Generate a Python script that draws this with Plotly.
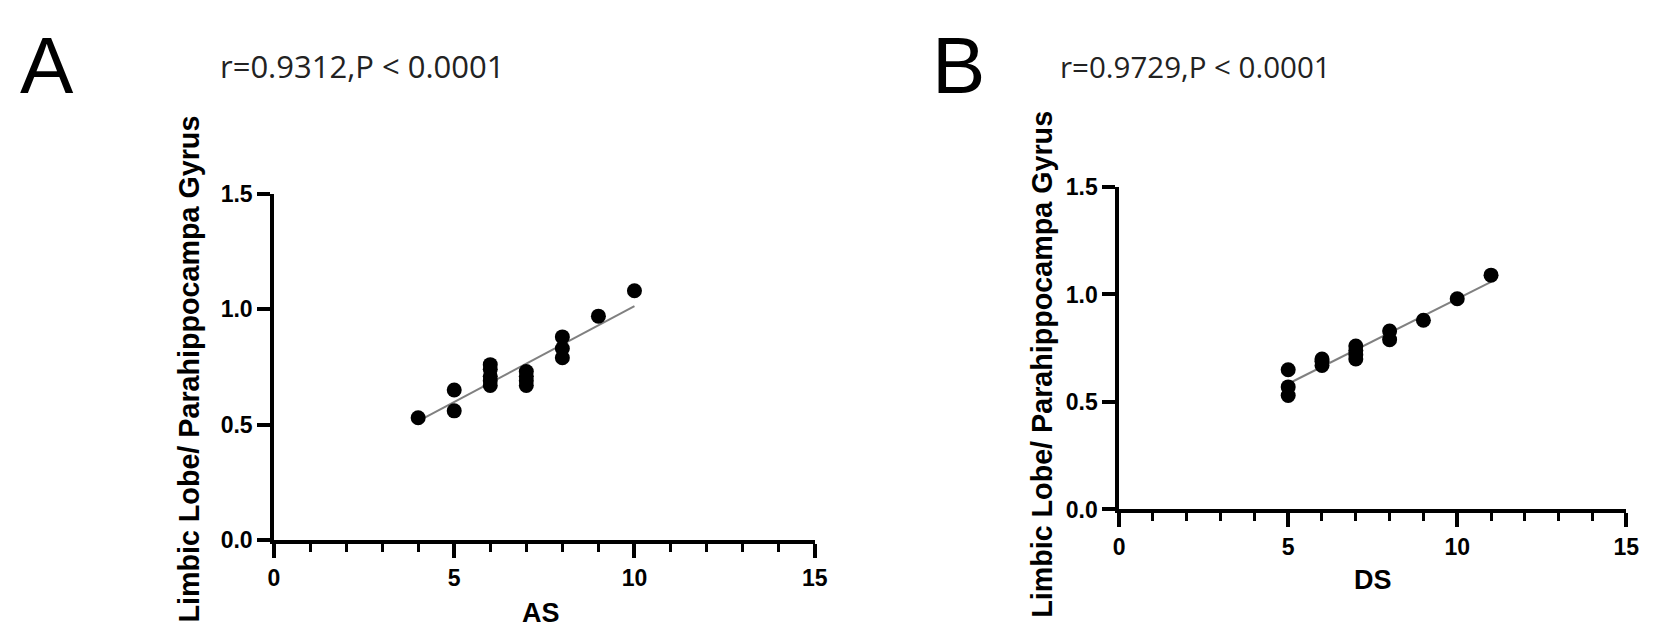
import numpy as np
import plotly.graph_objects as go

W, H = 1654, 644

# panel A: AS vs Limbic Lobe / Parahippocampa Gyrus
as_x = [4, 5, 5, 6, 6, 6, 6, 6, 7, 7, 7, 7, 8, 8, 8, 9, 10]
as_y = [0.53, 0.65, 0.56, 0.76, 0.74, 0.71, 0.69, 0.67, 0.73, 0.71, 0.69, 0.67,
        0.88, 0.83, 0.79, 0.97, 1.08]

# panel B: DS vs Limbic Lobe / Parahippocampa Gyrus
ds_x = [5, 5, 5, 6, 6, 6, 7, 7, 7, 7, 8, 8, 9, 10, 11]
ds_y = [0.65, 0.57, 0.53, 0.70, 0.69, 0.67, 0.76, 0.74, 0.72, 0.70,
        0.83, 0.79, 0.88, 0.98, 1.09]

stats = ["r=0.9312,P < 0.0001", "r=0.9729,P < 0.0001"]
x_titles = ["AS", "DS"]
y_title = "Limbic Lobe/ Parahippocampa Gyrus"
panel_letters = ["A", "B"]

x_ticks = [0, 5, 10, 15]
y_ticks = [0.0, 0.5, 1.0, 1.5]

AXFONT = "Liberation Sans, Arial, sans-serif"
TXTFONT = "Open Sans, sans-serif"


def px_x(p):
    return p / W


def px_y(p):
    return 1 - p / H


fig = go.Figure()

panels = [
    (as_x, as_y, "x", "y"),
    (ds_x, ds_y, "x2", "y2"),
]

for xs, ys, xa, ya in panels:
    slope, icpt = np.polyfit(xs, ys, 1)
    lx = np.array([min(xs), max(xs)])
    fig.add_trace(go.Scatter(x=lx, y=slope * lx + icpt, mode="lines",
                             line=dict(color="#808080", width=2),
                             xaxis=xa, yaxis=ya, showlegend=False))
    fig.add_trace(go.Scatter(x=xs, y=ys, mode="markers",
                             marker=dict(size=15, color="black"),
                             xaxis=xa, yaxis=ya, showlegend=False))

# pixel boxes of the two plot areas (left, right, top, bottom)
boxes = [(263, 810, 180, 541), (1118, 1631, 173, 509)]

common_x = dict(range=[0, 15], tickvals=x_ticks, showgrid=False, zeroline=False,
                showline=True, linecolor="black", linewidth=3.5,
                ticks="outside", ticklen=14, tickwidth=3.5, tickcolor="black",
                minor=dict(dtick=1, ticks="outside", ticklen=8, tickwidth=3,
                           tickcolor="black"),
                tickfont=dict(family=AXFONT, size=23, color="black", weight="bold"))
common_y = dict(range=[0, 1.5], tickvals=y_ticks, tickformat=".1f", showgrid=False,
                zeroline=False, showline=True, linecolor="black", linewidth=3.5,
                ticks="outside", ticklen=13, tickwidth=3.5, tickcolor="black",
                tickfont=dict(family=AXFONT, size=23, color="black", weight="bold"))

layout_axes = {}
for i, (l, r, t, b) in enumerate(boxes):
    sfx = "" if i == 0 else "2"
    layout_axes["xaxis" + sfx] = dict(common_x, domain=[px_x(l), px_x(r)],
                                      anchor="y" + sfx)
    layout_axes["yaxis" + sfx] = dict(common_y, domain=[px_y(b), px_y(t)],
                                      anchor="x" + sfx)

fig.update_layout(width=W, height=H, margin=dict(l=0, r=0, t=0, b=0),
                  paper_bgcolor="white", plot_bgcolor="white", **layout_axes)

# text positions in pixels
letter_pos = [(33, 46), (955, 46)]
stat_pos = [(206, 23), (1056, 24)]
stat_size = [31, 29.5]
xtitle_pos = [(533, 617), (1375, 582)]
ytitle_pos = [(177, 96), (1040, 92)]

for i in range(2):
    fig.add_annotation(text=panel_letters[i], x=px_x(letter_pos[i][0]),
                       y=px_y(letter_pos[i][1]), xref="paper", yref="paper",
                       showarrow=False, xanchor="center", yanchor="middle",
                       font=dict(family=AXFONT, size=80, color="black"))
    fig.add_annotation(text=stats[i], x=px_x(stat_pos[i][0]), y=px_y(stat_pos[i][1]),
                       xref="paper", yref="paper", showarrow=False,
                       xanchor="left", yanchor="top",
                       font=dict(family=TXTFONT, size=stat_size[i], color="#222"))
    fig.add_annotation(text=x_titles[i], x=px_x(xtitle_pos[i][0]),
                       y=px_y(xtitle_pos[i][1]), xref="paper", yref="paper",
                       showarrow=False, xanchor="center", yanchor="middle",
                       font=dict(family=AXFONT, size=27, color="black", weight="bold"))
    fig.add_annotation(text=y_title, x=px_x(ytitle_pos[i][0]), y=px_y(ytitle_pos[i][1]),
                       xref="paper", yref="paper", showarrow=False, textangle=-90,
                       xanchor="center", yanchor="top",
                       font=dict(family=AXFONT, size=28.7, color="black", weight="bold"))

fig.write_html("out.html")
